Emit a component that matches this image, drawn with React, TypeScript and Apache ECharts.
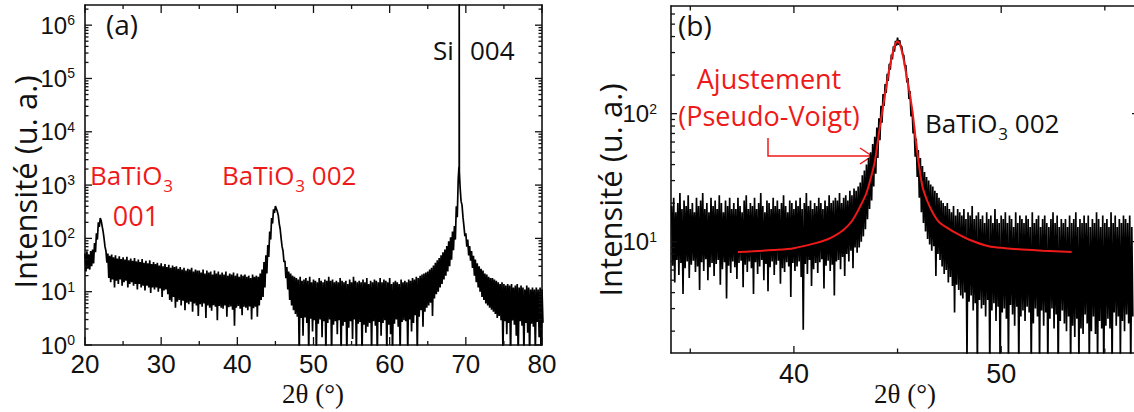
import React, { useEffect, useRef } from 'react';
import * as echarts from 'echarts';

const SANS = '"Open Sans", "Noto Sans", sans-serif';
const ARIAL = '"Liberation Sans Narrow", "Arial Narrow", "Liberation Sans", Arial, sans-serif';
const SERIF = '"Liberation Serif", "Times New Roman", serif';
const RED = '#ee1a1a';
const INK = '#111111';

// ---------- Panel (a): full 2θ scan, 20–80° ----------
const A_X_START = 20;
const A_X_STEP = 0.25;
// upper envelope of the noisy counts at each step
const aUpper = [
  52, 57, 50, 58, 62, 82, 125, 200, 240, 170, 100, 58,
  52, 47, 50, 44, 48, 42, 46, 41, 44, 40, 45, 39,
  42, 38, 43, 37, 40, 36, 41, 35, 38, 34, 39, 33,
  36, 33, 35, 31, 34, 30, 33, 29, 32, 28, 31, 29,
  30, 27, 29, 26, 28, 25, 27, 26, 28, 24, 26, 25,
  25, 23, 26, 22, 25, 23, 24, 21, 25, 22, 24, 21,
  23, 21, 24, 20, 22, 21, 23, 20, 22, 19, 21, 20,
  21, 19, 20, 18, 21, 19, 20, 19, 22, 26, 36, 48,
  75, 135, 240, 350, 405, 320, 190, 100, 58, 38, 29, 24,
  22, 20, 19, 18, 17, 19, 16, 17, 18, 16, 19, 15,
  17, 16, 15, 18, 16, 15, 17, 16, 19, 16, 17, 15,
  16, 15, 18, 16, 15, 16, 14, 17, 15, 19, 16, 15,
  16, 15, 17, 15, 18, 14, 16, 15, 17, 16, 15, 18,
  15, 17, 16, 15, 18, 14, 15, 16, 15, 14, 17, 15,
  16, 15, 17, 16, 18, 17, 19, 18, 20, 21, 22, 23,
  24, 26, 28, 31, 35, 39, 43, 48, 55, 62, 72, 88,
  105, 135, 170, 400, 1300, 900, 420, 170, 125, 95, 72, 58,
  47, 40, 34, 30, 27, 25, 22, 21, 19, 18, 18, 17,
  16, 15, 14, 15, 14, 13, 14, 13, 14, 12, 13, 14,
  12, 13, 12, 11, 13, 12, 11, 12, 11, 12, 11, 12,
  11,
];
// lower envelope (half a step later)
const aLower = [
  24, 27, 26, 30, 34, 55, 95, 165, 215, 135, 70, 35,
  18, 15, 17, 12, 16, 14, 17, 13, 15, 16, 12, 14,
  15, 13, 14, 11, 14, 12, 13, 10.5, 13, 12, 9.5, 12,
  11, 12, 10, 11.5, 8, 10.5, 11, 9, 7, 6.5, 8, 5,
  6.5, 7, 5.5, 6.8, 4.5, 6.2, 5.8, 6.5, 4.2, 6, 5.5, 3.5,
  5.8, 5.2, 6, 3.2, 5.5, 5, 4.4, 5.6, 5.2, 2.9, 5.4, 5,
  4.8, 5.5, 3.4, 5.1, 5.3, 4.6, 2.3, 5, 5.4, 4.8, 3.6, 5.2,
  5.0, 4.5, 5.3, 3.0, 4.9, 5.2, 3.4, 5.5, 7, 8, 12, 22,
  45, 95, 190, 300, 360, 270, 150, 70, 36, 18, 11, 7,
  5.5, 4.5, 3.8, 3.4, 0.6, 3.2, 1.5, 3.3, 2.6, 0.7, 3.1, 1.8,
  2.9, 0.6, 2.5, 3.0, 1.4, 2.8, 0.7, 2.6, 3.0, 0.6, 2.4, 2.8,
  1.6, 2.9, 0.7, 2.3, 2.7, 0.6, 2.1, 2.8, 1.3, 3.0, 0.7, 2.5,
  2.7, 0.6, 2.4, 1.7, 2.2, 2.6, 0.7, 2.8, 2.3, 0.6, 2.7, 1.5,
  2.6, 2.9, 0.7, 2.4, 1.6, 0.6, 2.5, 3.0, 2.2, 0.7, 2.7, 2.9,
  2.8, 0.7, 3.0, 1.8, 2.6, 3.6, 0.7, 3.4, 4.5, 2.2, 4.2, 5.0,
  5.5, 6.2, 3.5, 7.5, 9, 10, 12, 14, 17, 20, 24, 30,
  40, 60, 95, 250, 1500, 500, 250, 110, 70, 48, 38, 28,
  20, 15, 12, 10, 8, 7, 6, 5.5, 5, 4.6, 4.2, 3.8,
  3.2, 3.5, 2.9, 0.7, 2.8, 1.6, 2.6, 0.6, 2.9, 2.4, 1.5, 0.6,
  2.8, 2.3, 0.7, 2.6, 1.7, 0.6, 2.5, 2.2, 0.7, 2.7, 1.4, 0.6,
  2.6,
];
// the very sharp Si 004 substrate reflection
const siSpikeX = [69.1, 69.13, 69.15];
const siSpikeY = [2200, 5000000, 1800];

const aXMajor = [20, 30, 40, 50, 60, 70, 80];
const aXMinor = [25, 35, 45, 55, 65, 75];
const aYDecades = [1, 10, 100, 1000, 10000, 100000, 1000000];

// ---------- Panel (b): zoom on BaTiO3 002 ----------
const B_X_START = 34.1;
const B_X_STEP = 0.1;
const bUpper = [
  19, 22, 17, 20, 24, 18, 21, 19, 23, 18,
  20, 17, 22, 19, 21, 24, 18, 20, 17, 22,
  19, 21, 18, 23, 20, 17, 21, 19, 22, 18,
  20, 18, 22, 19, 17, 21, 23, 18, 20, 19,
  22, 18, 20, 24, 19, 17, 21, 20, 18, 22,
  19, 21, 18, 20, 23, 19, 17, 21, 20, 18,
  21, 19, 22, 18, 20, 24, 19, 21, 18, 20,
  19, 22, 20, 18, 21, 19, 23, 20, 21, 22,
  21, 24, 20, 22, 23, 21, 25, 23, 26, 25,
  27, 29, 33, 36, 40, 45, 50, 58, 66, 78,
  92, 115, 142, 170, 205, 245, 290, 335, 370, 392,
  375, 335, 285, 240, 190, 150, 112, 82, 64, 52,
  45, 39, 35, 32, 30, 28, 27, 25, 24, 22,
  21, 20, 19, 20, 18, 17, 19, 16, 18, 17,
  16, 18, 15, 17, 16, 19, 15, 16, 17, 15,
  16, 14, 17, 15, 16, 14, 18, 15, 14, 16,
  15, 17, 14, 16, 15, 13, 17, 14, 16, 15,
  14, 16, 15, 13, 17, 14, 15, 16, 13, 15,
  16, 14, 13, 15, 17, 14, 16, 13, 15, 14,
  15, 13, 16, 14, 15, 17, 13, 15, 14, 16,
  14, 16, 13, 15, 14, 17, 15, 13, 16, 14,
  15, 13, 17, 14, 16, 13, 15, 14, 16, 15,
  14, 16, 13,
];
const bLower = [
  6.5, 4.8, 7.2, 5.5, 6.8, 3.9, 6.2, 7.0, 5.2, 6.6,
  7.1, 5.8, 6.4, 4.2, 6.9, 5.9, 7.3, 5.0, 6.3, 6.8,
  5.4, 6.7, 7.2, 4.6, 6.1, 6.9, 3.6, 6.5, 5.7, 7.0,
  6.3, 5.1, 6.8, 7.1, 4.4, 6.6, 5.8, 7.0, 6.2, 3.9,
  6.9, 5.6, 6.4, 7.2, 5.0, 6.7, 4.1, 6.3, 7.0, 5.5,
  6.6, 7.1, 4.7, 6.2, 5.8, 6.9, 6.4, 3.7, 6.8, 5.9,
  6.4, 7.0, 5.3, 2.05, 6.7, 5.6, 7.2, 4.5, 6.1, 6.8,
  5.7, 6.9, 7.3, 4.3, 6.5, 7.1, 5.9, 6.6, 3.8, 7.0,
  7.2, 6.1, 7.6, 5.4, 8.0, 7.0, 8.5, 6.2, 9.0, 8.2,
  9.0, 10, 11, 12.5, 15, 18, 21, 27, 34, 45,
  62, 85, 115, 145, 180, 220, 265, 305, 340, 345,
  335, 290, 235, 175, 130, 95, 70, 46, 32, 22,
  17, 14, 12, 10.5, 9.5, 8.5, 9.2, 5.4, 8.0, 7.2,
  6.4, 5.6, 6.0, 4.8, 5.3, 4.5, 2.8, 4.6, 4.2, 3.8,
  3.6, 4.0, 1.2, 3.4, 3.8, 2.9, 3.3, 1.0, 3.5, 3.0,
  3.2, 2.6, 3.5, 1.0, 2.9, 3.3, 2.4, 3.1, 0.9, 2.8,
  3.0, 2.5, 1.1, 3.2, 2.7, 2.2, 3.1, 1.0, 2.6, 2.9,
  2.4, 3.1, 2.8, 1.0, 2.3, 3.0, 2.6, 1.1, 2.9, 2.2,
  2.8, 1.0, 2.5, 3.0, 2.1, 2.7, 0.9, 2.4, 2.9, 2.3,
  2.0, 2.6, 1.0, 2.2, 1.8, 2.5, 1.1, 2.1, 1.9, 2.7,
  2.3, 1.0, 2.0, 2.6, 1.9, 1.1, 2.4, 2.1, 0.9, 2.2,
  2.5, 2.1, 1.0, 2.8, 2.2, 2.6, 1.2, 2.4, 2.0, 2.7,
  2.3, 1.0, 2.6,
];
// Pseudo-Voigt fit (red curve)
const fitX = [37.3, 38, 39, 40, 41, 41.6, 42, 42.4, 42.8, 43.2, 43.5, 43.7, 43.9, 44.1, 44.3, 44.5, 44.65, 44.8, 44.9, 45.0,
  45.1, 45.2, 45.3, 45.45, 45.6, 45.75, 45.9, 46.05, 46.2, 46.45, 46.7, 47.0, 47.4, 47.8, 48.5, 49.4, 50.2, 51, 52, 53.4];
const fitY = [8.3, 8.4, 8.6, 8.9, 9.7, 10.4, 11.2, 12.4, 14.5, 18.9, 24, 31, 42, 70, 114, 180, 245, 315, 352, 367,
  352, 310, 262, 190, 140, 95, 58, 38, 27, 20.5, 16.8, 14.2, 12.8, 11.7, 10.3, 9.2, 8.9, 8.7, 8.5, 8.3];

const bXMajor = [40, 50];
const bXMinor = [35, 45, 55];
const bYDecades = [10, 100];
const minorMultipliers = [2, 3, 4, 5, 6, 7, 8, 9];

// axis ranges
const A_RANGE = { xMin: 20, xMax: 80, yMin: 1, yMax: 2.39e6 };
const B_RANGE = { xMin: 34.07, xMax: 56.6, yMin: 1.35, yMax: 693 };

function zigzag(start: number, step: number, up: number[], lo: number[]) {
  const pts: number[][] = [];
  for (let i = 0; i < up.length; i++) {
    const x = +(start + i * step).toFixed(4);
    pts.push([x, up[i]]);
    pts.push([+(x + step / 2).toFixed(4), lo[i]]);
  }
  return pts;
}

function minorLog(decades: number[], lo: number, hi: number) {
  const out: number[] = [];
  const base = [decades[0] / 10, ...decades];
  base.forEach((d) => minorMultipliers.forEach((m) => {
    const v = d * m;
    if (v > lo && v < hi) out.push(v);
  }));
  return out;
}

function tickData(r: any, xMaj: number[], xMin: number[], yMaj: number[], yMin: number[], L: any) {
  const d: number[][] = [];
  xMaj.forEach((v) => { d.push([v, r.yMin, 0, -L.xMaj]); d.push([v, r.yMax, 0, L.xMaj]); });
  xMin.forEach((v) => { d.push([v, r.yMin, 0, -L.xMin]); d.push([v, r.yMax, 0, L.xMin]); });
  yMaj.forEach((v) => { d.push([r.xMin, v, L.yMaj, 0]); d.push([r.xMax, v, -L.yMaj, 0]); });
  yMin.forEach((v) => { d.push([r.xMin, v, L.yMin, 0]); d.push([r.xMax, v, -L.yMin, 0]); });
  return d;
}

const renderTick = (params: any, api: any) => {
  const p = api.coord([api.value(0), api.value(1)]);
  return {
    type: 'line',
    shape: { x1: p[0], y1: p[1], x2: p[0] + api.value(2), y2: p[1] + api.value(3) },
    style: { stroke: INK, lineWidth: 1.3 },
  };
};

const supLabel = (v: number) => {
  const e = Math.log10(v);
  const r = Math.round(e);
  if (Math.abs(e - r) > 1e-6) return '';
  return `{b|10}{s|${r}}`;
};

const supRich = (size: number) => ({
  b: { fontSize: size, fontFamily: ARIAL, color: INK, lineHeight: size, verticalAlign: 'bottom' },
  s: { fontSize: Math.round(size * 0.6), fontFamily: ARIAL, color: INK, lineHeight: Math.round(size * 0.6), verticalAlign: 'top' },
});

const subRich = (fill: string) => ({
  n: { fontSize: 26, fontFamily: SANS, fill, color: fill, lineHeight: 30, verticalAlign: 'top' },
  s: { fontSize: 17, fontFamily: SANS, fill, color: fill, lineHeight: 18, verticalAlign: 'top', padding: [15, 0, 0, 1] },
});

function buildOption() {
  const aData = zigzag(A_X_START, A_X_STEP, aUpper, aLower);
  siSpikeX.forEach((x, i) => aData.push([x, siSpikeY[i]]));
  aData.sort((p, q) => p[0] - q[0]);
  const bData = zigzag(B_X_START, B_X_STEP, bUpper, bLower);
  const fitData = fitX.map((x, i) => [x, fitY[i]]);

  const aTicks = tickData(A_RANGE, aXMajor, aXMinor, aYDecades, minorLog(aYDecades, A_RANGE.yMin, A_RANGE.yMax),
    { xMaj: 8, xMin: 4, yMaj: 7, yMin: 3.5 });
  const bTicks = tickData(B_RANGE, bXMajor, bXMinor, bYDecades, minorLog(bYDecades, B_RANGE.yMin, B_RANGE.yMax),
    { xMaj: 7, xMin: 4.5, yMaj: 6, yMin: 4 });

  const axisLine = { show: true, lineStyle: { color: INK, width: 1.6 } };
  const xLabelA = { fontSize: 26, fontFamily: ARIAL, color: INK, margin: 6 };
  const xLabelB = { fontSize: 27, fontFamily: ARIAL, color: INK, margin: 7 };

  return {
    animation: false,
    backgroundColor: '#ffffff',
    grid: [
      { left: 85, top: 5, width: 457, height: 340 },
      { left: 671, top: 6, width: 467, height: 347 },
    ],
    xAxis: [
      { type: 'value', gridIndex: 0, position: 'bottom', min: A_RANGE.xMin, max: A_RANGE.xMax, interval: 10,
        axisLine, axisTick: { show: false }, splitLine: { show: false }, axisLabel: xLabelA },
      { type: 'value', gridIndex: 0, position: 'top', min: A_RANGE.xMin, max: A_RANGE.xMax, interval: 10,
        axisLine, axisTick: { show: false }, splitLine: { show: false }, axisLabel: { show: false } },
      { type: 'value', gridIndex: 1, position: 'bottom', min: B_RANGE.xMin, max: B_RANGE.xMax,
        axisLine, axisTick: { show: false }, splitLine: { show: false },
        axisLabel: { ...xLabelB, customValues: bXMajor } },
      { type: 'value', gridIndex: 1, position: 'top', min: B_RANGE.xMin, max: B_RANGE.xMax,
        axisLine, axisTick: { show: false }, splitLine: { show: false }, axisLabel: { show: false } },
    ],
    yAxis: [
      { type: 'log', logBase: 10, gridIndex: 0, position: 'left', min: A_RANGE.yMin, max: A_RANGE.yMax,
        axisLine, axisTick: { show: false }, splitLine: { show: false },
        axisLabel: { formatter: supLabel, rich: supRich(24), margin: 10 } },
      { type: 'log', logBase: 10, gridIndex: 0, position: 'right', min: A_RANGE.yMin, max: A_RANGE.yMax,
        axisLine, axisTick: { show: false }, splitLine: { show: false }, axisLabel: { show: false } },
      { type: 'log', logBase: 10, gridIndex: 1, position: 'left', min: B_RANGE.yMin, max: B_RANGE.yMax,
        axisLine, axisTick: { show: false }, splitLine: { show: false },
        axisLabel: { formatter: supLabel, rich: supRich(24), margin: 14 } },
      { type: 'log', logBase: 10, gridIndex: 1, position: 'right', min: B_RANGE.yMin, max: B_RANGE.yMax,
        axisLine, axisTick: { show: false }, splitLine: { show: false }, axisLabel: { show: false } },
    ],
    series: [
      { type: 'line', name: 'scan (a)', xAxisIndex: 0, yAxisIndex: 0, data: aData, showSymbol: false, symbol: 'none',
        lineStyle: { color: '#000', width: 1.7 }, clip: true, silent: true },
      { type: 'custom', name: 'ticks (a)', xAxisIndex: 0, yAxisIndex: 0, data: aTicks, renderItem: renderTick,
        silent: true, clip: false, z: 10 },
      { type: 'line', name: 'scan (b)', xAxisIndex: 2, yAxisIndex: 2, data: bData, showSymbol: false, symbol: 'none',
        lineStyle: { color: '#000', width: 1.7 }, clip: true, silent: true },
      { type: 'line', name: 'Ajustement', xAxisIndex: 2, yAxisIndex: 2, data: fitData, showSymbol: false, symbol: 'none',
        smooth: 0.3, lineStyle: { color: RED, width: 2 }, clip: true, silent: true, z: 5 },
      { type: 'custom', name: 'ticks (b)', xAxisIndex: 2, yAxisIndex: 2, data: bTicks, renderItem: renderTick,
        silent: true, clip: false, z: 10 },
    ],
    graphic: [
      { type: 'text', x: 106, y: 24, style: { text: '(a)', fontSize: 28, fontFamily: SANS, fill: INK, verticalAlign: 'middle' } },
      { type: 'text', x: 433, y: 50, style: { text: 'Si', fontSize: 26, fontFamily: SANS, fill: INK, verticalAlign: 'middle' } },
      { type: 'text', x: 470, y: 50, style: { text: '004', fontSize: 26, fontFamily: SANS, fill: INK, verticalAlign: 'middle' } },
      { type: 'text', x: 90, y: 162, style: { text: '{n|BaTiO}{s|3}', rich: subRich(RED) } },
      { type: 'text', x: 136, y: 215, style: { text: '001', fontSize: 27, fontFamily: SANS, fill: RED, align: 'center', verticalAlign: 'middle' } },
      { type: 'text', x: 222, y: 162, style: { text: '{n|BaTiO}{s|3}{n| 002}', rich: subRich(RED) } },
      { type: 'text', x: 678, y: 25, style: { text: '(b)', fontSize: 28, fontFamily: SANS, fill: INK, verticalAlign: 'middle' } },
      { type: 'text', x: 769, y: 78, style: { text: 'Ajustement', fontSize: 27, fontFamily: SANS, fill: RED, align: 'center', verticalAlign: 'middle' } },
      { type: 'text', x: 769, y: 115, style: { text: '(Pseudo-Voigt)', fontSize: 27, fontFamily: SANS, fill: RED, align: 'center', verticalAlign: 'middle' } },
      { type: 'polyline', shape: { points: [[768, 138], [768, 156], [871, 156]] }, style: { stroke: RED, lineWidth: 1.5, fill: 'none' } },
      { type: 'polyline', shape: { points: [[860, 148], [872, 156], [860, 164]] }, style: { stroke: RED, lineWidth: 1.5, fill: 'none' } },
      { type: 'text', x: 925, y: 110, style: { text: '{n|BaTiO}{s|3}{n| 002}', rich: subRich(INK) } },
      { type: 'text', x: 25, y: 182, rotation: Math.PI / 2, style: { text: 'Intensité (u. a.)', fontSize: 31, fontFamily: SANS, fill: INK, align: 'center', verticalAlign: 'middle' } },
      { type: 'text', x: 610, y: 190, rotation: Math.PI / 2, style: { text: 'Intensité (u. a.)', fontSize: 31, fontFamily: SANS, fill: INK, align: 'center', verticalAlign: 'middle' } },
      { type: 'text', x: 313, y: 394, style: { text: '2θ (°)', fontSize: 27, fontFamily: SERIF, fill: INK, align: 'center', verticalAlign: 'middle' } },
      { type: 'text', x: 905, y: 394, style: { text: '2θ (°)', fontSize: 27, fontFamily: SERIF, fill: INK, align: 'center', verticalAlign: 'middle' } },
    ],
  };
}

export default function App() {
  const ref = useRef<HTMLDivElement>(null);
  useEffect(() => {
    if (!ref.current) return;
    const chart = echarts.init(ref.current, null, { renderer: 'svg' });
    chart.setOption(buildOption() as any);
    return () => chart.dispose();
  }, []);
  return (
    <div style={{ position: 'absolute', left: 0, top: 0, width: 1134, height: 412, overflow: 'hidden', background: '#fff' }}>
      <div ref={ref} style={{ width: 1145, height: 412 }} />
    </div>
  );
}
